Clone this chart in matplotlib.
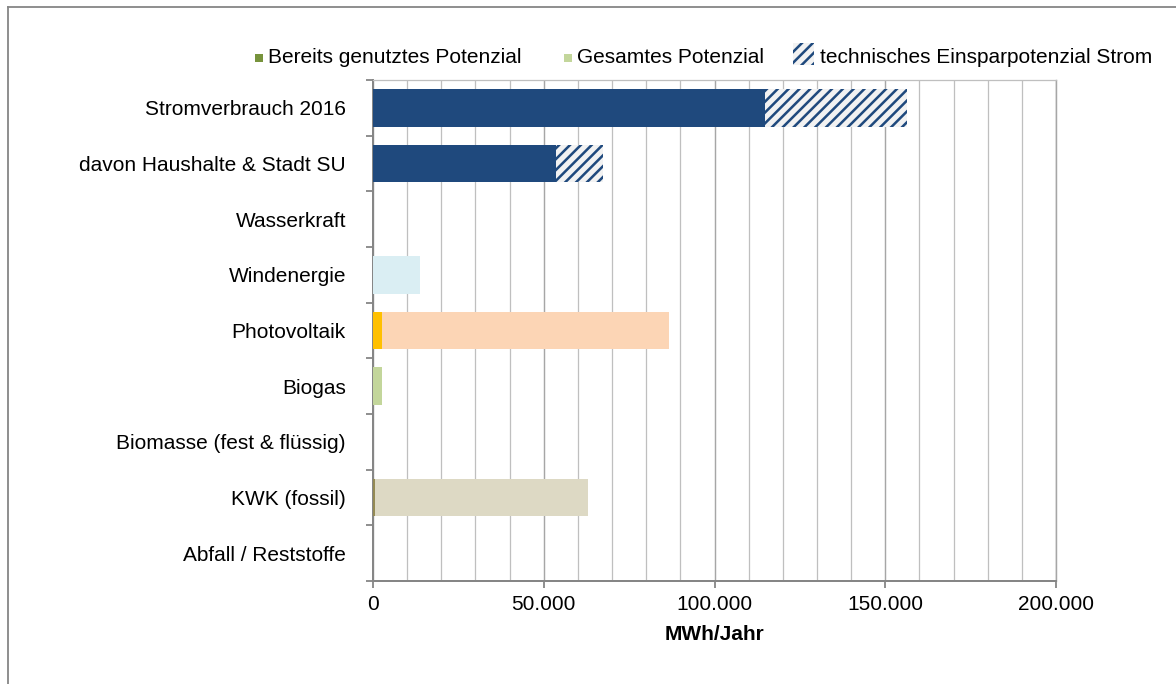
import matplotlib
matplotlib.use('Agg')
import matplotlib.pyplot as plt
import matplotlib.patches as mpatches
from matplotlib.legend_handler import HandlerPatch
from matplotlib.lines import Line2D
from matplotlib.ticker import FuncFormatter, MultipleLocator
import numpy as np

# Daten (MWh/Jahr)
categories = ['Stromverbrauch 2016', 'davon Haushalte & Stadt SU', 'Wasserkraft',
              'Windenergie', 'Photovoltaik', 'Biogas',
              'Biomasse (fest & flüssig)', 'KWK (fossil)', 'Abfall / Reststoffe']
verbrauch = [114800, 53600, 0, 0, 0, 0, 0, 0, 0]
einsparung = [41500, 13700, 0, 0, 0, 0, 0, 0, 0]
genutzt = [0, 0, 0, 0, 2600, 0, 0, 500, 0]
gesamt = [0, 0, 0, 13800, 86700, 2600, 0, 63000, 0]

dark_blue = '#1F497D'
used_colors = ['#77933C'] * 4 + ['#FFC000', '#77933C', '#77933C', '#948A54', '#77933C']
total_colors = ['#C3D69B'] * 3 + ['#DAEEF3', '#FCD5B5', '#C3D69B', '#C3D69B', '#DDD9C4', '#C3D69B']

DPI = 130
plt.rcParams['font.family'] = ['Liberation Sans', 'DejaVu Sans']
plt.rcParams['font.size'] = 11.6
plt.rcParams['hatch.linewidth'] = 1.4

fig = plt.figure(figsize=(1176 / DPI, 684 / DPI), dpi=DPI)
ax = fig.add_axes([373 / 1176, 1 - 581 / 684, (1056 - 373) / 1176, (581 - 80) / 684])

y = np.arange(len(categories))
h = 0.68

ax.barh(y, gesamt, height=h, color=total_colors, linewidth=0, zorder=3)
ax.barh(y, genutzt, height=h, color=used_colors, linewidth=0, zorder=4)
ax.barh(y, verbrauch, height=h, color=dark_blue, linewidth=0, zorder=3)
ax.barh(y, einsparung, left=verbrauch, height=h, color='#F2F2F2', edgecolor=dark_blue,
        hatch='////', linewidth=0, zorder=3)

ax.set_xlim(0, 200000)
ax.set_ylim(len(categories) - 0.5, -0.5)

ax.xaxis.set_major_locator(MultipleLocator(50000))
ax.xaxis.set_minor_locator(MultipleLocator(10000))
ax.xaxis.set_major_formatter(FuncFormatter(lambda v, p: f'{int(v):,}'.replace(',', '.')))
ax.grid(axis='x', which='minor', color='#BFBFBF', linewidth=0.7, zorder=0)
ax.grid(axis='x', which='major', color='#A6A6A6', linewidth=0.8, zorder=0)
ax.set_axisbelow(True)

ax.set_yticks(y)
ax.set_yticklabels(categories)
ax.set_yticks(np.arange(len(categories) + 1) - 0.5, minor=True)
ax.tick_params(axis='y', which='major', length=0, pad=15)
ax.tick_params(axis='y', which='minor', length=4, width=1.0, color='#868686', direction='out')
ax.tick_params(axis='x', which='major', length=4, width=1.0, color='#868686', direction='out', pad=4)
ax.tick_params(axis='x', which='minor', length=0)

for s in ['left', 'bottom']:
    ax.spines[s].set_color('#868686')
    ax.spines[s].set_linewidth(1.1)
ax.spines['top'].set_color('#BFBFBF')
ax.spines['top'].set_linewidth(0.7)
ax.spines['right'].set_color('#A6A6A6')
ax.spines['right'].set_linewidth(0.8)

ax.set_xlabel('MWh/Jahr', fontweight='bold', labelpad=6)


def small_box(legend, orig_handle, xdescent, ydescent, width, height, fontsize):
    s = 4.6
    return mpatches.Rectangle((-xdescent + width - s, -ydescent + (height - s) / 2 - 1), s, s)


def big_box(legend, orig_handle, xdescent, ydescent, width, height, fontsize):
    s = 12
    return mpatches.Rectangle((-xdescent + width - s, -ydescent + (height - s) / 2 + 1), s, s)


h1 = mpatches.Patch(facecolor='#77933C', linewidth=0)
h2 = mpatches.Patch(facecolor='#C3D69B', linewidth=0)
h3 = mpatches.Patch(facecolor='#F2F2F2', edgecolor=dark_blue, hatch='////', linewidth=0)
fig.legend([h1, h2, h3],
           ['Bereits genutztes Potenzial', 'Gesamtes Potenzial', 'technisches Einsparpotenzial Strom'],
           loc='center', bbox_to_anchor=(697 / 1176, 1 - 57 / 684), ncol=3, frameon=False,
           handlelength=1.0, handleheight=1.0, handletextpad=0.25, columnspacing=1.4,
           handler_map={h1: HandlerPatch(patch_func=small_box),
                        h2: HandlerPatch(patch_func=small_box),
                        h3: HandlerPatch(patch_func=big_box)})

# Rahmen
fig.add_artist(Line2D([8 / 1176, 1], [1 - 7 / 684, 1 - 7 / 684], transform=fig.transFigure,
                      color='#868686', linewidth=1.0))
fig.add_artist(Line2D([8 / 1176, 8 / 1176], [0, 1 - 7 / 684], transform=fig.transFigure,
                      color='#868686', linewidth=1.0))

fig.savefig('out.png', dpi=DPI)
